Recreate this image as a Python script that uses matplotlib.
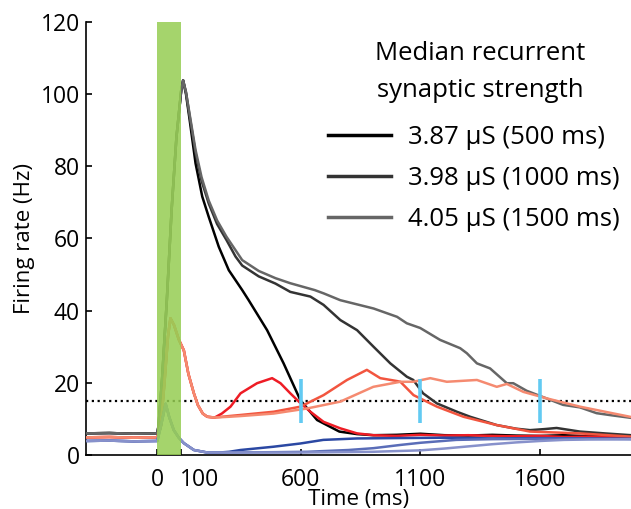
import numpy as np
import matplotlib
matplotlib.use("Agg")
import matplotlib.pyplot as plt
import matplotlib.transforms as mtransforms

plt.rcParams['font.family'] = ['Open Sans', 'DejaVu Sans']

# --- data (time in ms, rate in Hz) ---
# shared rise of the excitatory traces during the stimulus
rise_t = [-300, -200, -100, 0, 5, 20, 40, 60, 80, 100, 108]
rise_v = [6.0, 6.1, 5.9, 6.0, 8, 21, 43, 68, 88, 101, 103.8]

# 3.87 uS (500 ms)
t_387 = [120, 135, 160, 188, 215, 257, 299, 355, 382, 459, 528, 598, 668, 761, 835, 903, 1000, 1100, 1200, 1300, 1400, 1500, 1600, 1700, 1800, 1900, 1980]
v_387 = [100, 93, 80.8, 71.6, 66, 57.7, 51.2, 45.7, 42.9, 34.6, 25.4, 15.2, 9.7, 6.5, 5.8, 5.5, 5.6, 5.9, 5.5, 5.4, 5.6, 5.4, 5.3, 5.5, 5.2, 5.3, 5.2]

# 3.98 uS (1000 ms)
t_398 = [120, 135, 160, 185, 215, 250, 289, 327, 355, 424, 494, 556, 640, 695, 765, 835, 904, 974, 1043, 1070, 1111, 1169, 1252, 1308, 1419, 1500, 1558, 1620, 1669, 1767, 1870, 1980]
v_398 = [100.5, 94, 83.6, 76, 69.7, 64, 59.6, 55, 52.5, 49.5, 47.5, 45.2, 43.9, 41.6, 37.4, 34.6, 30, 25.4, 21.7, 20.8, 17.1, 14.3, 12, 10.6, 8.3, 7.3, 6.9, 7.2, 7.5, 6.5, 6.0, 5.5]

# 4.05 uS (1500 ms)
t_405 = [120, 135, 160, 185, 215, 250, 289, 355, 424, 494, 556, 658, 695, 765, 904, 1002, 1043, 1099, 1182, 1266, 1294, 1336, 1391, 1461, 1488, 1544, 1607, 1696, 1767, 1836, 1900, 1980]
v_405 = [100.5, 94.5, 84.5, 77, 70.5, 65, 60.5, 54, 51, 49, 47.6, 45.7, 44.8, 42.9, 40.6, 38.3, 36.5, 35.2, 31.9, 29.6, 28.2, 25.4, 24, 19.9, 19.9, 17.8, 16.2, 13.9, 13.2, 11.6, 11.0, 10.3]

# shared stimulus response of the red group
red_t = [-300, -200, -100, 0, 15, 30, 45, 55, 70, 90, 111, 130, 153, 170, 190, 209, 240]
red_v = [4.9, 5.0, 4.8, 4.9, 8, 20, 33, 37.9, 36, 32, 29, 22.5, 17.1, 13.8, 11.5, 10.6, 10.4]

t_red500 = [270, 306, 348, 417, 480, 515, 556, 598, 640, 695, 765, 835, 903, 1000, 1100, 1200, 1300, 1400, 1500, 1600, 1700, 1800, 1980]
v_red500 = [11.5, 13.4, 17.1, 19.9, 21.3, 19.9, 17.1, 14.4, 12, 9.2, 7.4, 6, 5.5, 5.3, 5.6, 5.4, 5.5, 5.3, 5.2, 5.3, 5.0, 5.1, 4.9]

t_red1000 = [300, 348, 487, 598, 695, 793, 876, 932, 1002, 1016, 1071, 1169, 1280, 1419, 1558, 1767, 1980]
v_red1000 = [10.8, 11.1, 12, 13.4, 16.6, 20.8, 23.6, 21.3, 20.5, 20.3, 16.6, 13.4, 10.6, 8.3, 6.5, 6, 5.1]

t_red1500 = [300, 348, 487, 626, 765, 903, 1016, 1070, 1141, 1210, 1336, 1419, 1461, 1530, 1628, 1767, 1976]
v_red1500 = [10.6, 10.8, 11.5, 12.9, 14.8, 18.9, 20.3, 20.3, 21.3, 20.3, 20.8, 18.9, 19.7, 17.5, 15.7, 13.4, 10.6]

# shared stimulus response of the blue group
blue_t = [-300, -200, -100, 0, 15, 35, 50, 69, 90, 111, 153, 209, 260]
blue_v = [3.9, 4.0, 3.8, 3.9, 8, 14.2, 10.5, 6.9, 4.8, 3.3, 1.4, 0.7, 0.7]

t_blue500 = [300, 348, 485, 598, 694, 835, 1000, 1200, 1400, 1600, 1800, 1980]
v_blue500 = [0.9, 1.4, 2.3, 3.2, 4.2, 4.6, 4.7, 4.8, 4.6, 4.7, 4.6, 4.5]

t_blue1000 = [300, 500, 626, 800, 903, 1016, 1100, 1250, 1400, 1600, 1800, 1980]
v_blue1000 = [0.7, 0.8, 0.9, 1.4, 1.9, 2.8, 3.4, 4.2, 4.4, 4.5, 4.5, 4.4]

t_blue1500 = [300, 600, 900, 1100, 1200, 1300, 1400, 1500, 1600, 1700, 1800, 1980]
v_blue1500 = [0.7, 0.7, 0.9, 1.3, 1.8, 2.4, 3.0, 3.5, 3.9, 4.2, 4.3, 4.4]

marker_t = [600, 1100, 1600]
threshold = 15
labels = [u"3.87 \u03bcS (500 ms)", u"3.98 \u03bcS (1000 ms)", u"4.05 \u03bcS (1500 ms)"]
legend_title = ['Median recurrent', 'synaptic strength']

xticks = [0, 100, 600, 1100, 1600]
yticks = [0, 20, 40, 60, 80, 100, 120]

grays = ['#000000', '#333333', '#666666']
reds = ['#ee1c25', '#f2553f', '#f58a70']
blues = ['#2b48a3', '#5a6db8', '#8791cb']

fig = plt.figure(figsize=(6.31, 5.09), dpi=100)
ax = fig.add_axes([0.1355, 0.106, 0.8645, 0.851])

lw = 1.8
for (tt, vv), c, lab in zip([(t_387, v_387), (t_398, v_398), (t_405, v_405)], grays, labels):
    ax.plot(rise_t + tt, rise_v + vv, color=c, lw=lw, label=lab, zorder=3)
for (tt, vv), c in zip([(t_red500, v_red500), (t_red1000, v_red1000), (t_red1500, v_red1500)], reds):
    ax.plot(red_t + tt, red_v + vv, color=c, lw=lw, zorder=4)
for (tt, vv), c in zip([(t_blue500, v_blue500), (t_blue1000, v_blue1000), (t_blue1500, v_blue1500)], blues):
    ax.plot(blue_t + tt, blue_v + vv, color=c, lw=lw, zorder=4)

ax.axhline(threshold, color='black', lw=1.6, ls=(0, (1, 1.6)), zorder=2)
ax.axvspan(0, 100, color='#95cd52', alpha=0.85, lw=0, zorder=5)
ax.vlines(marker_t, 9, 21, color='#62caf2', lw=2.6, zorder=6)

ax.set_xlim(-300, 1980)
ax.set_ylim(0, 120)
ax.set_xticks(xticks)
ax.set_xticklabels([str(x) for x in xticks])
ax.set_yticks(yticks)
ax.tick_params(direction='in', length=4, width=1.2, labelsize=16.5)
ax.tick_params(axis='x', pad=9)
ax.tick_params(axis='y', pad=4)
for s in ['top', 'right']:
    ax.spines[s].set_visible(False)
for s in ['left', 'bottom']:
    ax.spines[s].set_linewidth(1.2)

# shift the "100" label right so it clears the "0"
lab100 = ax.get_xticklabels()[1]
lab100.set_transform(lab100.get_transform() + mtransforms.ScaledTranslation(18 / 100, 0, fig.dpi_scale_trans))

ax.set_xlabel('Time (ms)', fontsize=16, labelpad=-2)
ax.set_ylabel('Firing rate (Hz)', fontsize=16, labelpad=4)

# legend title as two centred lines
fig.text(480 / 631, 1 - 53 / 509, legend_title[0], ha='center', va='center', fontsize=18.5)
fig.text(480 / 631, 1 - 90 / 509, legend_title[1], ha='center', va='center', fontsize=18.5)

leg = ax.legend(loc='upper left', bbox_to_anchor=(328 / 631, 1 - 125 / 509), bbox_transform=fig.transFigure,
                frameon=False, fontsize=18.5,
                handlelength=2.45, handletextpad=0.65, labelspacing=0.62, borderpad=0, borderaxespad=0)
for line in leg.get_lines():
    line.set_linewidth(2.5)

fig.savefig('out.png', dpi=100)
